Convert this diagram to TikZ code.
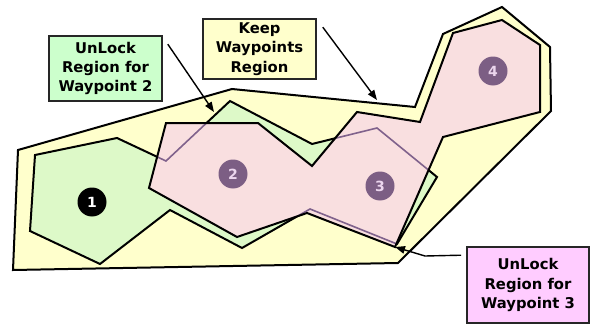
\documentclass[tikz,border=0pt]{standalone}
\usepackage{fontspec}
\setmainfont{DejaVu Sans}
\usetikzlibrary{arrows.meta,calc}
\definecolor{keepyel}{RGB}{255,255,204}
\definecolor{unlgreen}{RGB}{221,249,200}
\definecolor{unlpink}{RGB}{249,223,224}
\definecolor{boxgreen}{RGB}{204,255,204}
\definecolor{boxyel}{RGB}{255,255,204}
\definecolor{boxpink}{RGB}{255,204,255}
\definecolor{wpcol}{RGB}{124,94,132}
\definecolor{wptext}{RGB}{236,214,238}
\definecolor{hiddenline}{RGB}{128,98,140}
\begin{document}
\begin{tikzpicture}[x=1pt,y=-1pt,
  region/.style={draw=black,line width=2pt,line join=miter},
  labelbox/.style={draw=black!85,line width=1.6pt,rectangle,inner sep=0pt,align=center,
    font=\bfseries\fontsize{14.8}{19.3}\selectfont},
  wp/.style={circle,fill=wpcol,text=wptext,inner sep=0pt,minimum size=29pt,
    font=\bfseries\fontsize{14}{14}\selectfont},
  pointer/.style={-{Triangle[length=10pt,width=7.5pt]},line width=1.4pt}]
\useasboundingbox (0,0) rectangle (590,324);

% Keep Waypoints Region (yellow)
\draw[region,fill=keepyel] (18,150) -- (232,89) -- (415,107) -- (443,34) -- (502,7)
  -- (550,47) -- (551,111) -- (398,263) -- (13,270) -- cycle;

% UnLock Region for Waypoint 2 (green)
\def\greenpath{(35,155) -- (117,138) -- (166,161) -- (230,101) -- (312,144) -- (377,128)
  -- (437,177) -- (397,244) -- (310,209) -- (242,248) -- (170,210) -- (100,264)
  -- (30,231) -- cycle}
\draw[region,fill=unlgreen] \greenpath;

% UnLock Region for Waypoint 3 (pink)
\def\pinkpath{(166,123) -- (258,123) -- (312,166) -- (357,112) -- (420,122) -- (453,33)
  -- (502,20) -- (540,45) -- (540,112) -- (443,137) -- (395,247) -- (307,213)
  -- (237,237) -- (149,188) -- cycle}
\fill[unlpink] \pinkpath;
\begin{scope}
  \clip \pinkpath;
  \draw[hiddenline,line width=1.6pt] \greenpath;
\end{scope}
\draw[region] \pinkpath;

% waypoints
\node[wp,fill=black,text=white] (n1) at (92,202) {1};
\node[wp] (n2) at (233,174) {2};
\node[wp] (n3) at (380,186) {3};
\node[wp] (n4) at (493,71) {4};

% label boxes
\node[labelbox,fill=boxgreen,minimum width=113pt,minimum height=65pt] (lg) at (105.5,68.5)
  {UnLock\\Region for\\Waypoint 2};
\node[labelbox,fill=boxyel,minimum width=113pt,minimum height=60pt] (ly) at (259.5,49)
  {Keep\\Waypoints\\Region};
\node[labelbox,fill=boxpink,minimum width=122pt,minimum height=76pt] (lp) at (528,285)
  {UnLock\\Region for\\Waypoint 3};

% arrow targets
\coordinate (tg) at (214,112);
\coordinate (ty) at (377,100);
\coordinate (tp) at (395,247);
\coordinate (bend) at (425,256);

\draw[pointer] ($(lg.north east)+(5,9)$) -- (tg);
\draw[pointer] ($(ly.north east)+(6,9)$) -- (ty);
\draw[pointer] ($(lp.north west)+(-5,9)$) -- (bend) -- (tp);
\end{tikzpicture}
\end{document}
